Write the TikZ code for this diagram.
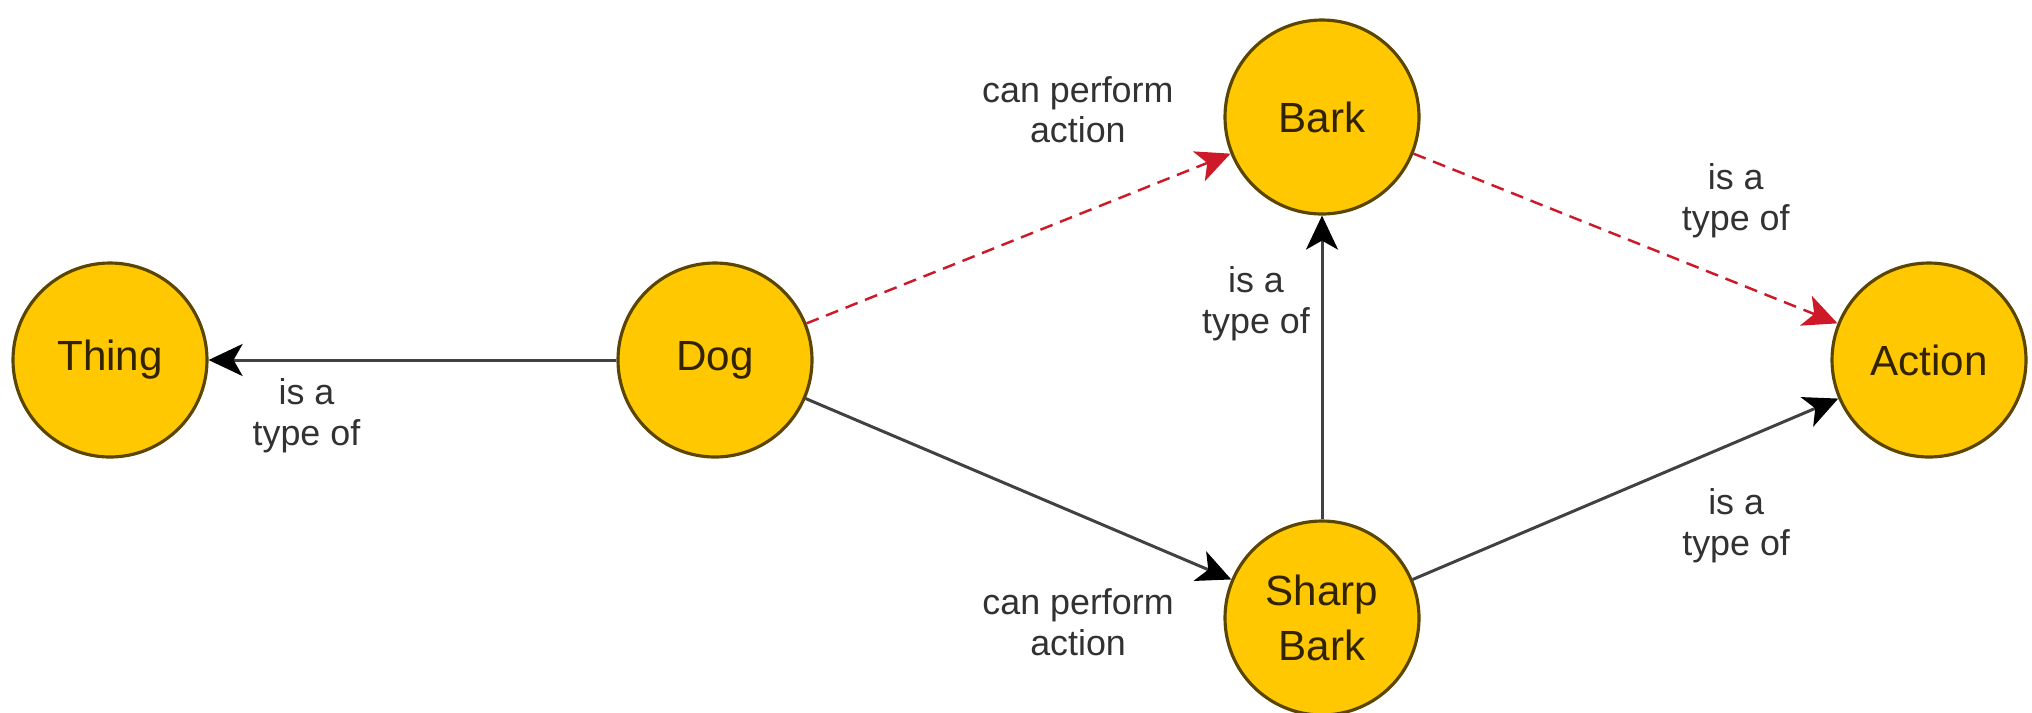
\documentclass[tikz,border=0pt]{standalone}
\usepackage{fontspec}
\setmainfont{Liberation Sans}
\usepackage{xcolor}
\usepackage{tikz}
\usetikzlibrary{arrows.meta}

\definecolor{conceptfill}{RGB}{255,200,0}
\definecolor{conceptline}{RGB}{90,70,0}
\definecolor{concepttext}{RGB}{50,35,0}
\definecolor{linkgray}{RGB}{65,65,65}
\definecolor{linkred}{RGB}{205,25,40}
\definecolor{labelgray}{RGB}{50,50,50}

\tikzset{
  concept/.style={circle, draw=conceptline, fill=conceptfill, line width=0.9pt, minimum size=1.94cm, inner sep=0pt, text=concepttext, font=\fontsize{12}{15.5}\selectfont, align=center},
  link/.style={draw=linkgray, line width=0.85pt, -{Stealth[length=0.34cm, width=0.32cm, inset=0.09cm, color=black]}},
  redlink/.style={draw=linkred, line width=0.7pt, dash pattern=on 0.13cm off 0.08cm, -{Stealth[length=0.34cm, width=0.32cm, inset=0.09cm, color=linkred]}},
  rel/.style={text=labelgray, font=\fontsize{10.2}{11.6}\selectfont, align=center, inner sep=0pt}
}

\begin{document}
\begin{tikzpicture}
            \useasboundingbox (0, 0) rectangle (20.32, -7.12);
            \node[concept] (thing) at (1.10, -3.60) {Thing};
            \node[concept] (dog) at (7.15, -3.60) {Dog};
            \node[concept] (bark) at (13.22, -1.17) {Bark};
            \node[concept] (sharpbark) at (13.22, -6.18) {Sharp\\Bark};
            \node[concept] (action) at (19.29, -3.60) {Action};
            \draw[link] (dog) -- (thing) node[rel, pos=0.76, yshift=-0.56cm] (isaThing) {is a\\type of};
            \draw[redlink] (dog) -- (bark) node[rel, pos=0.64, yshift=1.05cm] (canBark) {can perform\\action};
            \draw[link] (dog) -- (sharpbark) node[rel, pos=0.64, yshift=-1.08cm] (canSharp) {can perform\\action};
            \draw[link] (sharpbark) -- (bark) node[rel, pos=0.71, xshift=-0.66cm] (isaBark) {is a\\type of};
            \draw[redlink] (bark) -- (action) node[rel, pos=0.76, yshift=0.82cm] (isaActionA) {is a\\type of};
            \draw[link] (sharpbark) -- (action) node[rel, pos=0.76, yshift=-0.84cm] (isaActionB) {is a\\type of};
          \end{tikzpicture}
\end{document}
